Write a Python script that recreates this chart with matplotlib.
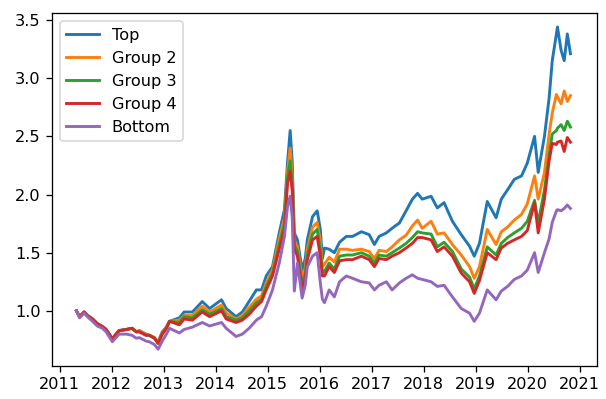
import matplotlib
matplotlib.use("Agg")
import matplotlib.pyplot as plt

# ================= DATA =================
# decimal years
YEARS = [
    2011.32, 2011.38, 2011.47, 2011.53, 2011.63, 2011.72, 2011.82, 2011.89,
    2012.01, 2012.14, 2012.28, 2012.39, 2012.47, 2012.53, 2012.66, 2012.72,
    2012.82, 2012.89, 2012.97, 2013.05, 2013.11, 2013.30, 2013.39, 2013.55,
    2013.74, 2013.88, 2014.11, 2014.20, 2014.39, 2014.51, 2014.64, 2014.78,
    2014.88, 2014.97, 2015.09, 2015.22, 2015.32, 2015.38, 2015.43, 2015.47,
    2015.51, 2015.57, 2015.66, 2015.72, 2015.76, 2015.86, 2015.95, 2016.01,
    2016.05, 2016.09, 2016.18, 2016.28, 2016.38, 2016.51, 2016.63, 2016.80,
    2016.95, 2017.05, 2017.14, 2017.28, 2017.39, 2017.53, 2017.66, 2017.78,
    2017.88, 2017.97, 2018.14, 2018.26, 2018.39, 2018.55, 2018.72, 2018.88,
    2018.97, 2019.07, 2019.22, 2019.39, 2019.49, 2019.61, 2019.74, 2019.88,
    2019.99, 2020.13, 2020.20, 2020.32, 2020.41, 2020.47, 2020.55, 2020.57,
    2020.64, 2020.70, 2020.76, 2020.82,
]

TOP = [
    1.00, 0.95, 0.99, 0.96, 0.93, 0.89, 0.865, 0.84,
    0.76, 0.83, 0.84, 0.85, 0.82, 0.83, 0.80, 0.79,
    0.77, 0.73, 0.82, 0.86, 0.91, 0.94, 0.99, 0.99,
    1.08, 1.02, 1.095, 1.02, 0.95, 0.99, 1.08, 1.18,
    1.18, 1.30, 1.38, 1.67, 1.87, 2.28, 2.55, 2.28,
    1.67, 1.61, 1.35, 1.45, 1.61, 1.81, 1.86, 1.70,
    1.45, 1.54, 1.53, 1.50, 1.59, 1.64, 1.64, 1.68,
    1.655, 1.57, 1.64, 1.67, 1.71, 1.755, 1.86, 1.96,
    2.01, 1.96, 1.985, 1.885, 1.93, 1.77, 1.655, 1.555,
    1.47, 1.58, 1.94, 1.80, 1.96, 2.04, 2.13, 2.16,
    2.27, 2.50, 2.19, 2.50, 2.83, 3.15, 3.38, 3.44,
    3.24, 3.15, 3.38, 3.21,
]

GROUP2 = [
    1.00, 0.95, 0.99, 0.96, 0.93, 0.89, 0.865, 0.84,
    0.76, 0.83, 0.84, 0.85, 0.82, 0.83, 0.80, 0.79,
    0.77, 0.73, 0.81, 0.86, 0.91, 0.92, 0.96, 0.96,
    1.04, 0.99, 1.05, 0.98, 0.93, 0.96, 1.03, 1.10,
    1.13, 1.24, 1.35, 1.62, 1.80, 2.20, 2.40, 2.15,
    1.60, 1.55, 1.28, 1.37, 1.53, 1.72, 1.76, 1.60,
    1.38, 1.40, 1.46, 1.42, 1.53, 1.53, 1.52, 1.53,
    1.51, 1.45, 1.52, 1.51, 1.55, 1.61, 1.65, 1.73,
    1.78, 1.71, 1.77, 1.66, 1.67, 1.57, 1.48, 1.38,
    1.28, 1.38, 1.70, 1.57, 1.68, 1.72, 1.78, 1.83,
    1.92, 2.16, 1.96, 2.19, 2.52, 2.70, 2.86, 2.84,
    2.78, 2.89, 2.80, 2.85,
]

GROUP3 = [
    1.00, 0.95, 0.99, 0.96, 0.93, 0.89, 0.865, 0.84,
    0.76, 0.83, 0.84, 0.85, 0.82, 0.82, 0.79, 0.79,
    0.765, 0.72, 0.80, 0.85, 0.91, 0.90, 0.95, 0.94,
    1.01, 0.97, 1.02, 0.95, 0.92, 0.94, 1.00, 1.07,
    1.10, 1.21, 1.32, 1.57, 1.75, 2.15, 2.29, 2.08,
    1.57, 1.51, 1.22, 1.32, 1.48, 1.66, 1.70, 1.53,
    1.33, 1.34, 1.41, 1.36, 1.47, 1.48, 1.48, 1.50,
    1.47, 1.41, 1.48, 1.47, 1.50, 1.54, 1.58, 1.63,
    1.68, 1.67, 1.66, 1.55, 1.59, 1.51, 1.36, 1.29,
    1.19, 1.30, 1.55, 1.48, 1.58, 1.63, 1.67, 1.71,
    1.77, 1.95, 1.755, 2.04, 2.34, 2.52, 2.55, 2.57,
    2.60, 2.55, 2.63, 2.58,
]

GROUP4 = [
    1.00, 0.95, 0.99, 0.96, 0.93, 0.89, 0.865, 0.84,
    0.76, 0.83, 0.84, 0.85, 0.82, 0.82, 0.79, 0.79,
    0.765, 0.72, 0.80, 0.85, 0.91, 0.88, 0.93, 0.92,
    0.99, 0.95, 1.00, 0.93, 0.90, 0.92, 0.97, 1.04,
    1.08, 1.18, 1.30, 1.53, 1.70, 2.10, 2.20, 2.03,
    1.53, 1.47, 1.18, 1.28, 1.44, 1.61, 1.64, 1.47,
    1.30, 1.30, 1.38, 1.33, 1.43, 1.44, 1.44, 1.47,
    1.44, 1.38, 1.45, 1.44, 1.47, 1.50, 1.54, 1.58,
    1.63, 1.63, 1.61, 1.51, 1.55, 1.47, 1.325, 1.25,
    1.15, 1.26, 1.50, 1.44, 1.54, 1.58, 1.61, 1.64,
    1.69, 1.93, 1.67, 1.96, 2.29, 2.44, 2.43, 2.45,
    2.46, 2.37, 2.49, 2.45,
]

BOTTOM = [
    1.00, 0.94, 0.98, 0.95, 0.91, 0.87, 0.85, 0.82,
    0.735, 0.80, 0.80, 0.79, 0.765, 0.77, 0.74, 0.735,
    0.71, 0.67, 0.74, 0.80, 0.85, 0.81, 0.84, 0.86,
    0.90, 0.87, 0.90, 0.85, 0.78, 0.80, 0.85, 0.92,
    0.95, 1.04, 1.18, 1.41, 1.64, 1.90, 1.985, 1.80,
    1.17, 1.41, 1.11, 1.22, 1.38, 1.47, 1.50, 1.24,
    1.10, 1.07, 1.18, 1.12, 1.25, 1.30, 1.28, 1.25,
    1.24, 1.18, 1.22, 1.25, 1.18, 1.24, 1.28, 1.31,
    1.28, 1.27, 1.25, 1.21, 1.22, 1.12, 1.02, 0.98,
    0.91, 0.98, 1.18, 1.095, 1.17, 1.21, 1.27, 1.30,
    1.35, 1.50, 1.33, 1.50, 1.62, 1.76, 1.86, 1.87,
    1.86, 1.88, 1.91, 1.88,
]

SERIES = [TOP, GROUP2, GROUP3, GROUP4, BOTTOM]
LABELS = ["Top", "Group 2", "Group 3", "Group 4", "Bottom"]
YEAR_TICKS = [2011, 2012, 2013, 2014, 2015, 2016, 2017, 2018, 2019, 2020, 2021]
# =================================================================

DPI = 116


def main() -> None:
    fig = plt.figure(figsize=(606 / DPI, 399 / DPI), dpi=DPI)
    ax = fig.add_axes([0.0858, 0.0827, 0.8993, 0.8847])

    for vals, label in zip(SERIES, LABELS):
        ax.plot(YEARS, vals, label=label, linewidth=1.8)

    ax.set_xticks(YEAR_TICKS)
    ax.set_xticklabels([str(y) for y in YEAR_TICKS])
    ax.set_xlim(2010.85, 2021.33)
    ax.set_ylim(0.526, 3.56)
    ax.legend(loc="upper left")

    fig.savefig("out.png", dpi=DPI)
    plt.close(fig)


if __name__ == "__main__":
    main()
